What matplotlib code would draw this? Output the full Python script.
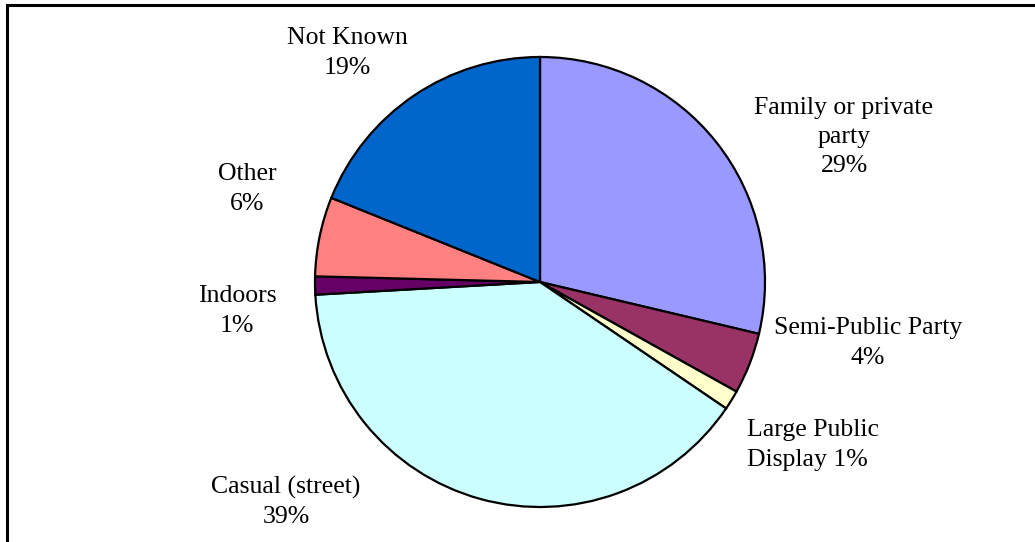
import matplotlib.pyplot as plt
from matplotlib.patches import Rectangle

# Slice data, clockwise from 12 o'clock
categories = ['Family or private\nparty', 'Semi-Public Party', 'Large Public\nDisplay',
              'Casual (street)', 'Indoors', 'Other', 'Not Known']
shares = [28.7, 4.4, 1.4, 39.6, 1.3, 5.7, 18.9]
pct_text = ['29%', '4%', '1%', '39%', '1%', '6%', '19%']
colors = ['#9999FF', '#993366', '#FFFFCC', '#CCFFFF', '#660066', '#FF8080', '#0066CC']

# label placement (pixel coords of the figure, y from top) and alignment
label_xy = [(844, 137), (868, 343), (747, 445), (286, 502), (237, 311), (247, 189), (347, 53)]
label_ha = ['center', 'center', 'left', 'center', 'center', 'center', 'center']
label_sep = ['\n', '\n', ' ', '\n', '\n', '\n', '\n']

W, H = 1035, 542
fig = plt.figure(figsize=(W / 100, H / 100), dpi=100)
ax = fig.add_axes([0, 0, 1, 1])
ax.axis('off')

# outer frame (only top/left visible in the crop)
ax.add_patch(Rectangle((7, -20), W + 40, H - 5 + 20, fill=False, edgecolor='black', linewidth=2.2))

ax.pie(shares, colors=colors, startangle=90, counterclock=False,
       center=(540, H - 282), radius=225,
       wedgeprops={'edgecolor': 'black', 'linewidth': 1.6})
ax.set_xlim(0, W)
ax.set_ylim(0, H)
ax.set_aspect('auto')

for name, p, (x, y), ha, sep in zip(categories, pct_text, label_xy, label_ha, label_sep):
    ax.text(x, H - y, name + sep + p, ha=ha, va='center', multialignment=ha,
            fontsize=18.5, family='Liberation Serif', linespacing=1.42)

fig.savefig('out.png', dpi=100)
